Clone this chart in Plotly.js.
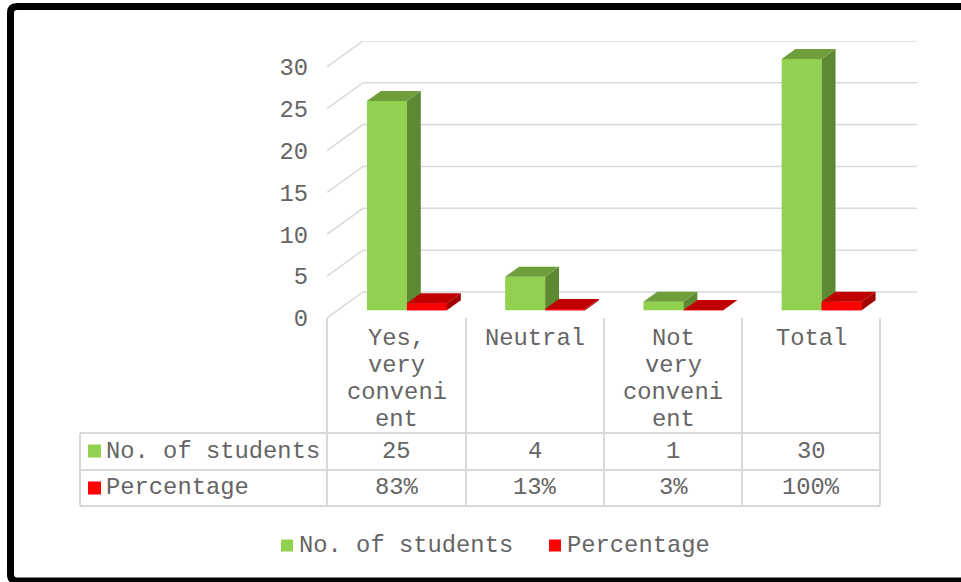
<!DOCTYPE html>
<html>
<head>
<meta charset="utf-8">
<script src="https://cdn.plot.ly/plotly-3.0.1.min.js"></script>
<style>html,body{margin:0;padding:0;background:#fff;}#chart{width:961px;height:582px;}</style>
</head>
<body>
<div id="chart"></div>
<script>
// ---------- data ----------
const categories = ["Yes, very convenient", "Neutral", "Not very convenient", "Total"];
const categoryLines = [["Yes,", "very", "conveni", "ent"], ["Neutral"], ["Not", "very", "conveni", "ent"], ["Total"]];
const seriesNames = ["No. of students", "Percentage"];
const students = [25, 4, 1, 30];
const percentage = [0.83, 0.13, 0.03, 1.00];
const studentLabels = ["25", "4", "1", "30"];
const percentageLabels = ["83%", "13%", "3%", "100%"];
const yTicks = [0, 5, 10, 15, 20, 25, 30];

// ---------- geometry / style ----------
const W = 961, H = 582;
const L = 327, R = 917, T = 41, B = 318;      // plot area in px
const colW = (880 - 327) / 4;                  // px per category
const yPx = 8.37;                              // px per y unit
const xMax = (R - L) / colW;
const yMax = (B - T) / yPx;
const DX = 36 / colW, DY = 26 / yPx;           // depth of the 3D box (data units)
const fFront = 0.3, fDepth = 0.385;            // bar position in depth
const offX = fFront * DX, offY = fFront * DY;
const bdx = fDepth * DX, bdy = fDepth * DY;
const bw = 40 / colW;
const FONT = "Liberation Mono, Courier New, monospace";
const FS = 23.8;
const TXT = "#656565";
const GRID = "#d9d9d9";
const colors = {
  green: { front: "#92D050", top: "#6F9E3B", side: "#5E8933" },
  red:   { front: "#FF0000", top: "#C00000", side: "#A30000" }
};

const px = x => (x - L) / (R - L);
const py = y => (B - y) / (B - T);

const shapes = [];
const annotations = [];

// gridlines (3D walls)
yTicks.forEach(v => {
  shapes.push({
    type: "path", xref: "x", yref: "y", layer: "below",
    path: `M0,${v} L${DX},${v + DY} L${xMax},${v + DY}`,
    line: { color: GRID, width: 1.5 }
  });
});

const gx = categories.map((c, i) => i + 0.5 + offX - bw / 2);
const rx = categories.map((c, i) => i + 0.5 + offX + bw / 2);

function faces(xc, val, col, out) {
  const x0 = xc - bw / 2, x1 = xc + bw / 2;
  const b = offY, t = offY + val;
  out.push({ type: "path", xref: "x", yref: "y", layer: "above", line: { width: 0 }, fillcolor: col.side,
    path: `M${x1},${b} L${x1 + bdx},${b + bdy} L${x1 + bdx},${t + bdy} L${x1},${t} Z` });
  out.push({ type: "path", xref: "x", yref: "y", layer: "above", line: { width: 0 }, fillcolor: col.top,
    path: `M${x0},${t} L${x1},${t} L${x1 + bdx},${t + bdy} L${x0 + bdx},${t + bdy} Z` });
}
categories.forEach((c, i) => {
  faces(gx[i], students[i], colors.green, shapes);
  // red front face redrawn above the green side face
  shapes.push({ type: "path", xref: "x", yref: "y", layer: "above", line: { width: 0 }, fillcolor: colors.red.front,
    path: `M${rx[i] - bw / 2},${offY} L${rx[i] + bw / 2},${offY} L${rx[i] + bw / 2},${offY + percentage[i]} L${rx[i] - bw / 2},${offY + percentage[i]} Z` });
  faces(rx[i], percentage[i], colors.red, shapes);
});

// data table lines
const tl = { color: GRID, width: 2 };
const colX = [327, 466, 604, 742, 880];
colX.forEach(x => shapes.push({ type: "line", xref: "paper", yref: "paper", x0: px(x), x1: px(x), y0: py(318), y1: py(506), line: tl }));
shapes.push({ type: "line", xref: "paper", yref: "paper", x0: px(80), x1: px(80), y0: py(433), y1: py(506), line: tl });
[433, 470, 506].forEach(y => shapes.push({ type: "line", xref: "paper", yref: "paper", x0: px(80), x1: px(880), y0: py(y), y1: py(y), line: tl }));

// category labels (header row)
categoryLines.forEach((lines, i) => {
  const cx = (colX[i] + colX[i + 1]) / 2;
  lines.forEach((s, k) => annotations.push({
    xref: "paper", yref: "paper", x: px(cx), y: py(338 + 27 * k), text: s, showarrow: false,
    xanchor: "center", yanchor: "middle", font: { family: FONT, size: FS, color: TXT }
  }));
});

// table rows
const rowY = [451, 488];
const rowVals = [studentLabels, percentageLabels];
const rowCols = [colors.green.front, colors.red.front];
seriesNames.forEach((name, r) => {
  shapes.push({ type: "rect", xref: "paper", yref: "paper", x0: px(88), x1: px(101), y0: py(rowY[r] - 6.5), y1: py(rowY[r] + 6.5),
    fillcolor: rowCols[r], line: { width: 0 } });
  annotations.push({ xref: "paper", yref: "paper", x: px(104), y: py(rowY[r]), text: name, showarrow: false,
    xanchor: "left", yanchor: "middle", font: { family: FONT, size: FS, color: TXT } });
  rowVals[r].forEach((v, i) => annotations.push({
    xref: "paper", yref: "paper", x: px((colX[i] + colX[i + 1]) / 2), y: py(rowY[r]), text: v, showarrow: false,
    xanchor: "center", yanchor: "middle", font: { family: FONT, size: FS, color: TXT }
  }));
});

// bottom legend
const legX = [281, 549];
seriesNames.forEach((name, r) => {
  shapes.push({ type: "rect", xref: "paper", yref: "paper", x0: px(legX[r]), x1: px(legX[r] + 12), y0: py(551.5), y1: py(539.5),
    fillcolor: rowCols[r], line: { width: 0 } });
  annotations.push({ xref: "paper", yref: "paper", x: px(legX[r] + 16), y: py(545), text: name, showarrow: false,
    xanchor: "left", yanchor: "middle", font: { family: FONT, size: FS, color: TXT } });
});

// outer black frame
shapes.push({ type: "path", xref: "paper", yref: "paper", layer: "above", line: { color: "#000", width: 7 },
  path: `M${px(980)},${py(581)} L${px(17)},${py(581)} Q${px(10.5)},${py(581)} ${px(10.5)},${py(574)} L${px(10.5)},${py(13)} Q${px(10.5)},${py(6.5)} ${px(17)},${py(6.5)} L${px(980)},${py(6.5)}` });

const traces = [
  { type: "bar", name: seriesNames[0], x: gx, y: students, base: offY, width: bw,
    marker: { color: colors.green.front, line: { width: 0 } }, hoverinfo: "skip" },
  { type: "bar", name: seriesNames[1], x: rx, y: percentage, base: offY, width: bw,
    marker: { color: colors.red.front, line: { width: 0 } }, hoverinfo: "skip" }
];

const layout = {
  width: W, height: H,
  margin: { l: L, r: W - R, t: T, b: H - B, pad: 0 },
  paper_bgcolor: "#fff", plot_bgcolor: "rgba(0,0,0,0)",
  showlegend: false, barmode: "overlay",
  xaxis: { range: [0, xMax], showgrid: false, zeroline: false, showline: false, showticklabels: false, ticks: "", fixedrange: true },
  yaxis: { range: [0, yMax], tickvals: yTicks, ticktext: yTicks.map(String), showgrid: false, zeroline: false, showline: false,
    ticks: "", ticklabelstandoff: 18, tickfont: { family: FONT, size: FS, color: TXT }, fixedrange: true },
  shapes: shapes, annotations: annotations
};

Plotly.newPlot("chart", traces, layout, { staticPlot: true, displayModeBar: false });
</script>
</body>
</html>
